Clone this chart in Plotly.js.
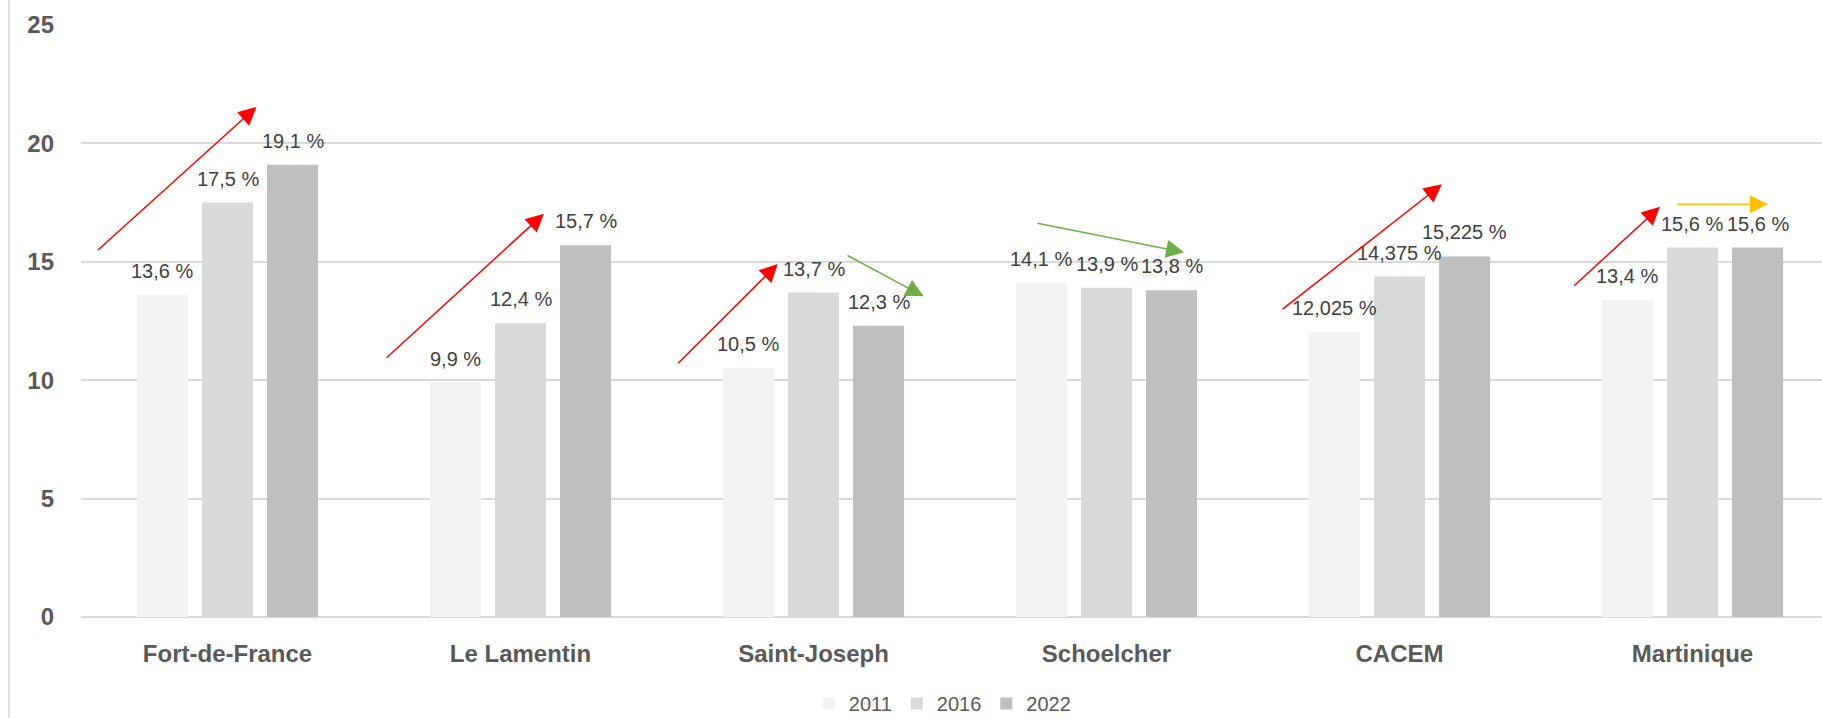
<!DOCTYPE html>
<html>
<head>
<meta charset="utf-8">
<script src="https://cdn.plot.ly/plotly-3.0.1.min.js"></script>
<style>html,body{margin:0;padding:0;background:#fff;}#chart{width:1822px;height:718px;}</style>
</head>
<body>
<div id="chart"></div>
<script>
// ---- data ----
const categories = ["Fort-de-France", "Le Lamentin", "Saint-Joseph", "Schoelcher", "CACEM", "Martinique"];
const years = ["2011", "2016", "2022"];
const values2011 = [13.6, 9.9, 10.5, 14.1, 12.025, 13.4];
const values2016 = [17.5, 12.4, 13.7, 13.9, 14.375, 15.6];
const values2022 = [19.1, 15.7, 12.3, 13.8, 15.225, 15.6];
const yTicks = [0, 5, 10, 15, 20, 25];
// trend arrows: [tailX, tailY, headX, headY, colour] in axis units (x = category index)
const trendArrows = [
  [-0.447, 15.44, 0.099, 21.54, "#FF0000"],
  [0.538, 10.89, 1.080, 17.03, "#FF0000"],
  [1.533, 10.65, 1.878, 14.91, "#FF0000"],
  [2.111, 15.30, 2.376, 13.54, "#70AD47"],
  [2.759, 16.64, 3.265, 15.40, "#70AD47"],
  [3.596, 12.95, 4.145, 18.27, "#FF0000"],
  [4.591, 13.93, 4.889, 17.32, "#FF0000"],
  [4.944, 17.43, 5.257, 17.43, "#FFC000"]
];

const seriesValues = [values2011, values2016, values2022];
const barColors = ["#F2F2F2", "#D9D9D9", "#BFBFBF"];
const bargap = 0.334;
const slot = (1 - bargap) / years.length;
const font = "Liberation Sans, Arial, sans-serif";

const traces = seriesValues.map((vals, j) => ({
  type: "bar",
  name: years[j],
  x: categories,
  y: vals,
  marker: {color: barColors[j]},
  hoverinfo: "x+y"
}));

const annotations = [];
seriesValues.forEach((vals, j) => {
  vals.forEach((v, i) => {
    annotations.push({
      x: i + (j - 1) * slot,
      y: v,
      xref: "x", yref: "y",
      text: String(v).replace(".", ",") + " %",
      showarrow: false,
      yanchor: "bottom",
      yshift: 11,
      font: {family: font, size: 20, color: "#404040"}
    });
  });
});
trendArrows.forEach(a => {
  annotations.push({
    x: a[2], y: a[3], ax: a[0], ay: a[1],
    xref: "x", yref: "y", axref: "x", ayref: "y",
    text: "", showarrow: true,
    arrowhead: 2, arrowsize: 2.4, arrowwidth: 1.5,
    arrowcolor: a[4], standoff: 0
  });
});

const layout = {
  width: 1822, height: 718,
  margin: {l: 81, r: 0, t: 25, b: 101, autoexpand: false},
  paper_bgcolor: "#fff", plot_bgcolor: "#fff",
  barmode: "group",
  bargap: bargap,
  bargroupgap: 0.215,
  showlegend: true,
  legend: {
    orientation: "h", x: 0.495, xanchor: "center", y: -0.113, yanchor: "top",
    font: {family: font, size: 20, color: "#595959"}, traceorder: "normal"
  },
  xaxis: {
    type: "category",
    range: [-0.5, 5.442],
    showgrid: false, zeroline: false, showline: false,
    ticks: "", ticklabelstandoff: 20,
    tickfont: {family: font, size: 24, color: "#595959", weight: "bold"}
  },
  yaxis: {
    range: [0, 25],
    tickvals: yTicks,
    ticktext: yTicks.map(String),
    showgrid: true, gridcolor: "#D9D9D9", gridwidth: 1.5,
    zeroline: true, zerolinecolor: "#D9D9D9", zerolinewidth: 1.5,
    showline: false, ticks: "", ticklabelstandoff: 26,
    tickfont: {family: font, size: 24, color: "#595959", weight: "bold"}
  },
  annotations: annotations,
  shapes: [{
    type: "line", xref: "paper", yref: "paper",
    x0: -0.0414, x1: -0.0414, y0: -0.2, y1: 1.1,
    line: {color: "#D9D9D9", width: 1.5}
  }]
};

Plotly.newPlot("chart", traces, layout, {displayModeBar: false, responsive: false});
</script>
</body>
</html>
